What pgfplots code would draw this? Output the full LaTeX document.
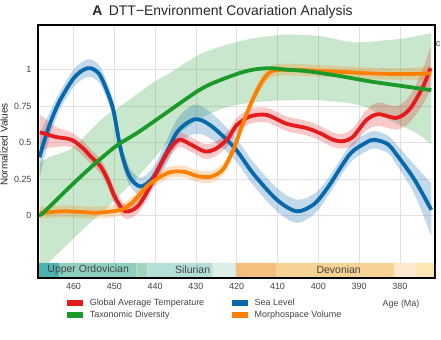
\documentclass[border=0pt]{standalone}
\usepackage{fontspec}
\setmainfont{Liberation Sans}
\usepackage{pgfplots}
\pgfplotsset{compat=1.18}
\usepgfplotslibrary{fillbetween}
\usepackage{pgfplotstable}

\definecolor{cred}{HTML}{E41A1C}
\definecolor{cblue}{HTML}{0868AC}
\definecolor{cgreen}{HTML}{1B9A2A}
\definecolor{corange}{HTML}{FF8000}
\definecolor{gridc}{HTML}{E6E0E4}
\definecolor{ticklab}{HTML}{444444}
\definecolor{p1}{HTML}{4BB3B0}
\definecolor{p2}{HTML}{8ECFC0}
\definecolor{p3}{HTML}{A2D5BE}
\definecolor{p4}{HTML}{B4DFD9}
\definecolor{p5}{HTML}{DCEEE6}
\definecolor{p6}{HTML}{F4BE7C}
\definecolor{p7}{HTML}{F6D394}
\definecolor{p8}{HTML}{FCE7CF}
\definecolor{p9}{HTML}{FDE6B4}

\pgfplotstableread{
age val err
468.3 0.40 0.14
467.3 0.50 0.12
465.5 0.65 0.08
463.3 0.79 0.06
460.0 0.94 0.06
457.5 1.00 0.06
455.7 1.01 0.06
453.7 0.97 0.06
452.0 0.87 0.06
450.2 0.72 0.06
448.4 0.45 0.06
446.3 0.27 0.06
443.6 0.20 0.06
440.5 0.26 0.07
437.4 0.42 0.08
434.4 0.58 0.09
430.3 0.66 0.10
426.5 0.62 0.09
420.7 0.47 0.08
416.0 0.29 0.08
410.2 0.11 0.08
405.3 0.03 0.08
401.0 0.08 0.07
397.5 0.20 0.06
392.3 0.42 0.06
388.3 0.50 0.06
386.3 0.52 0.06
383.0 0.49 0.06
380.6 0.41 0.07
376.5 0.25 0.10
372.3 0.04 0.18
}\seablue

\pgfplotstableread{
age val err
468.3 0.57 0.12
467.4 0.565 0.11
464.5 0.54 0.07
460.5 0.52 0.05
457.6 0.46 0.05
455.6 0.40 0.05
453.3 0.335 0.05
451.5 0.24 0.05
449.9 0.13 0.05
447.4 0.03 0.05
444.4 0.06 0.05
442.0 0.16 0.05
440.1 0.27 0.05
436.8 0.44 0.05
434.2 0.52 0.05
431.4 0.49 0.05
427.8 0.44 0.05
425.0 0.46 0.05
422.1 0.53 0.05
420.0 0.62 0.05
416.7 0.68 0.05
412.7 0.69 0.05
407.8 0.63 0.05
402.9 0.60 0.05
399.6 0.565 0.05
396.4 0.52 0.05
394.0 0.51 0.05
391.5 0.54 0.06
388.2 0.655 0.07
385.3 0.695 0.08
380.8 0.67 0.08
377.6 0.73 0.09
374.4 0.88 0.12
372.5 1.01 0.15
}\temp

\pgfplotstableread{
age val err
468.3 0.02 0.04
467.4 0.02 0.04
462.5 0.03 0.04
458.0 0.025 0.04
454.0 0.02 0.04
448.4 0.04 0.04
446.0 0.08 0.04
443.6 0.15 0.04
441.7 0.21 0.04
438.5 0.27 0.04
436.0 0.30 0.04
432.8 0.30 0.04
429.5 0.27 0.04
426.5 0.265 0.04
424.5 0.29 0.04
422.9 0.335 0.04
420.7 0.46 0.04
418.5 0.63 0.04
416.0 0.80 0.04
413.5 0.93 0.04
411.3 0.99 0.04
407.0 1.00 0.04
398.0 0.99 0.04
387.4 0.975 0.04
379.4 0.97 0.04
372.3 0.975 0.05
}\morpho

\pgfplotstableread{
age val
468.3 0.01
467.4 0.02
460.8 0.20
455.0 0.35
449.4 0.48
444.2 0.57
438.0 0.69
430.3 0.84
426.5 0.90
420.0 0.97
416.0 1.00
411.9 1.01
407.8 1.00
402.9 0.99
395.5 0.96
387.4 0.92
380.0 0.89
372.3 0.86
}\divers

\pgfplotstableread{
age lo hi
468.3 -0.40 0.36
466.0 -0.32 0.40
460.5 -0.17 0.46
456.0 -0.05 0.58
452.3 0.04 0.68
448.0 0.16 0.76
444.1 0.27 0.84
440.0 0.40 0.92
436.2 0.52 0.98
431.8 0.61 1.06
427.9 0.68 1.12
423.8 0.73 1.16
419.8 0.76 1.19
416.0 0.775 1.215
411.9 0.785 1.23
407.8 0.79 1.24
399.6 0.79 1.23
392.3 0.77 1.19
388.0 0.74 1.19
384.2 0.68 1.20
380.0 0.62 1.21
375.9 0.565 1.23
372.3 0.49 1.25
}\diversci

\begin{document}
\begin{tikzpicture}
\begin{axis}[
  at={(0bp,0bp)}, anchor=south west,
  scale only axis, width=397bp, height=253bp,
  x dir=reverse, xmin=371.4, xmax=468.7, ymin=-0.427, ymax=1.306,
  axis line style={line width=1.2bp, black},
  grid=major, major grid style={color=gridc, line width=0.8bp},
  major tick length=0pt,
  xtick={380,390,400,410,420,430,440,450,460},
  ytick={0,0.25,0.5,0.75,1},
  yticklabels={0,0.25,0.5,0.75,1},
  /pgf/number format/assume math mode=true,
  ticklabel style={font=\fontsize{9}{10}\selectfont, text=ticklab},
  xticklabel style={yshift=-2bp},
  yticklabel style={xshift=-3bp},
  legend columns=2,
  legend cell align=left,
  legend style={at={(0.066,-0.065)}, anchor=north west, draw=none, fill=none,
    font=\fontsize{9}{10}\selectfont, text=ticklab,
    /tikz/every odd column/.append style={column sep=5bp},
    /tikz/every even column/.append style={column sep=26bp}},
]
% legend entries
\addlegendimage{legend image code/.code={\fill[cred] (0bp,-2.5bp) rectangle (15bp,2.5bp);}}
\addlegendentry{Global Average Temperature}
\addlegendimage{legend image code/.code={\fill[cblue] (0bp,-2.5bp) rectangle (15bp,2.5bp);}}
\addlegendentry{Sea Level}
\addlegendimage{legend image code/.code={\fill[cgreen] (0bp,-2.5bp) rectangle (15bp,2.5bp);}}
\addlegendentry{Taxonomic Diversity}
\addlegendimage{legend image code/.code={\fill[corange] (0bp,-2.5bp) rectangle (15bp,2.5bp);}}
\addlegendentry{Morphospace Volume}

% green CI
\addplot[name path=gu, draw=none, smooth, forget plot] table[x=age, y=hi] {\diversci};
\addplot[name path=gl, draw=none, smooth, forget plot] table[x=age, y=lo] {\diversci};
\addplot[fill=cgreen, fill opacity=0.24, draw=none, forget plot] fill between[of=gu and gl];
% blue CI
\addplot[name path=bu, draw=none, smooth, forget plot] table[x=age, y expr=\thisrow{val}+\thisrow{err}] {\seablue};
\addplot[name path=bl, draw=none, smooth, forget plot] table[x=age, y expr=\thisrow{val}-\thisrow{err}] {\seablue};
\addplot[fill=cblue, fill opacity=0.25, draw=none, forget plot] fill between[of=bu and bl];
% red CI
\addplot[name path=ru, draw=none, smooth, forget plot] table[x=age, y expr=\thisrow{val}+\thisrow{err}] {\temp};
\addplot[name path=rl, draw=none, smooth, forget plot] table[x=age, y expr=\thisrow{val}-\thisrow{err}] {\temp};
\addplot[fill=cred, fill opacity=0.24, draw=none, forget plot] fill between[of=ru and rl];
% orange CI
\addplot[name path=ou, draw=none, smooth, forget plot] table[x=age, y expr=\thisrow{val}+\thisrow{err}] {\morpho};
\addplot[name path=ol, draw=none, smooth, forget plot] table[x=age, y expr=\thisrow{val}-\thisrow{err}] {\morpho};
\addplot[fill=corange, fill opacity=0.24, draw=none, forget plot] fill between[of=ou and ol];

% period band
\addplot[fill=p1, draw=none, forget plot] coordinates {(468.7,-0.427) (463.4,-0.427) (463.4,-0.324) (468.7,-0.324) (468.7,-0.427)};
\addplot[fill=p2, draw=none, forget plot] coordinates {(463.4,-0.427) (444.6,-0.427) (444.6,-0.324) (463.4,-0.324) (463.4,-0.427)};
\addplot[fill=p3, draw=none, forget plot] coordinates {(444.6,-0.427) (441.9,-0.427) (441.9,-0.324) (444.6,-0.324) (444.6,-0.427)};
\addplot[fill=p4, draw=none, forget plot] coordinates {(441.9,-0.427) (425.9,-0.427) (425.9,-0.324) (441.9,-0.324) (441.9,-0.427)};
\addplot[fill=p5, draw=none, forget plot] coordinates {(425.9,-0.427) (420.2,-0.427) (420.2,-0.324) (425.9,-0.324) (425.9,-0.427)};
\addplot[fill=p6, draw=none, forget plot] coordinates {(420.2,-0.427) (410.2,-0.427) (410.2,-0.324) (420.2,-0.324) (420.2,-0.427)};
\addplot[fill=p7, draw=none, forget plot] coordinates {(410.2,-0.427) (381.3,-0.427) (381.3,-0.324) (410.2,-0.324) (410.2,-0.427)};
\addplot[fill=p8, draw=none, forget plot] coordinates {(381.3,-0.427) (376.0,-0.427) (376.0,-0.324) (381.3,-0.324) (381.3,-0.427)};
\addplot[fill=p9, draw=none, forget plot] coordinates {(376.0,-0.427) (371.4,-0.427) (371.4,-0.324) (376.0,-0.324) (376.0,-0.427)};
\node[font=\fontsize{10.5}{12}\selectfont, text=ticklab] at (axis cs:456.4,-0.372) {Upper Ordovician};
\node[font=\fontsize{10.5}{12}\selectfont, text=ticklab] at (axis cs:430.8,-0.372) {Silurian};
\node[font=\fontsize{10.5}{12}\selectfont, text=ticklab] at (axis cs:395.0,-0.372) {Devonian};

% lines
\addplot[cblue, line width=3.8bp, smooth, forget plot] table[x=age, y=val] {\seablue};
\addplot[cred, line width=3.8bp, smooth, forget plot] table[x=age, y=val] {\temp};
\addplot[corange, line width=3.8bp, smooth, forget plot] table[x=age, y=val] {\morpho};
\addplot[cgreen, line width=3.8bp, smooth, forget plot] table[x=age, y=val] {\divers};

\draw[line width=1.2bp, black] (rel axis cs:0,0) rectangle (rel axis cs:1,1);
\end{axis}
\node[font=\fontsize{14}{16}\selectfont, text=black!85] at (184.5bp,266bp) {\textbf{A}\hspace{6.5bp}DTT−Environment Covariation Analysis};
\node[rotate=90, anchor=base, font=\fontsize{10}{12}\selectfont, text=black!85] at (-30.5bp,133.5bp) {Normalized Values};
\node[font=\fontsize{9}{10}\selectfont, text=ticklab] at (363bp,-26bp) {Age (Ma)};
\node[font=\fontsize{9}{10}\selectfont, text=ticklab, anchor=east, inner sep=0.5bp] at (403bp,234bp) {c};
\pgfresetboundingbox
\useasboundingbox (-38bp,-62bp) rectangle (403bp,278bp);
\end{tikzpicture}
\end{document}
